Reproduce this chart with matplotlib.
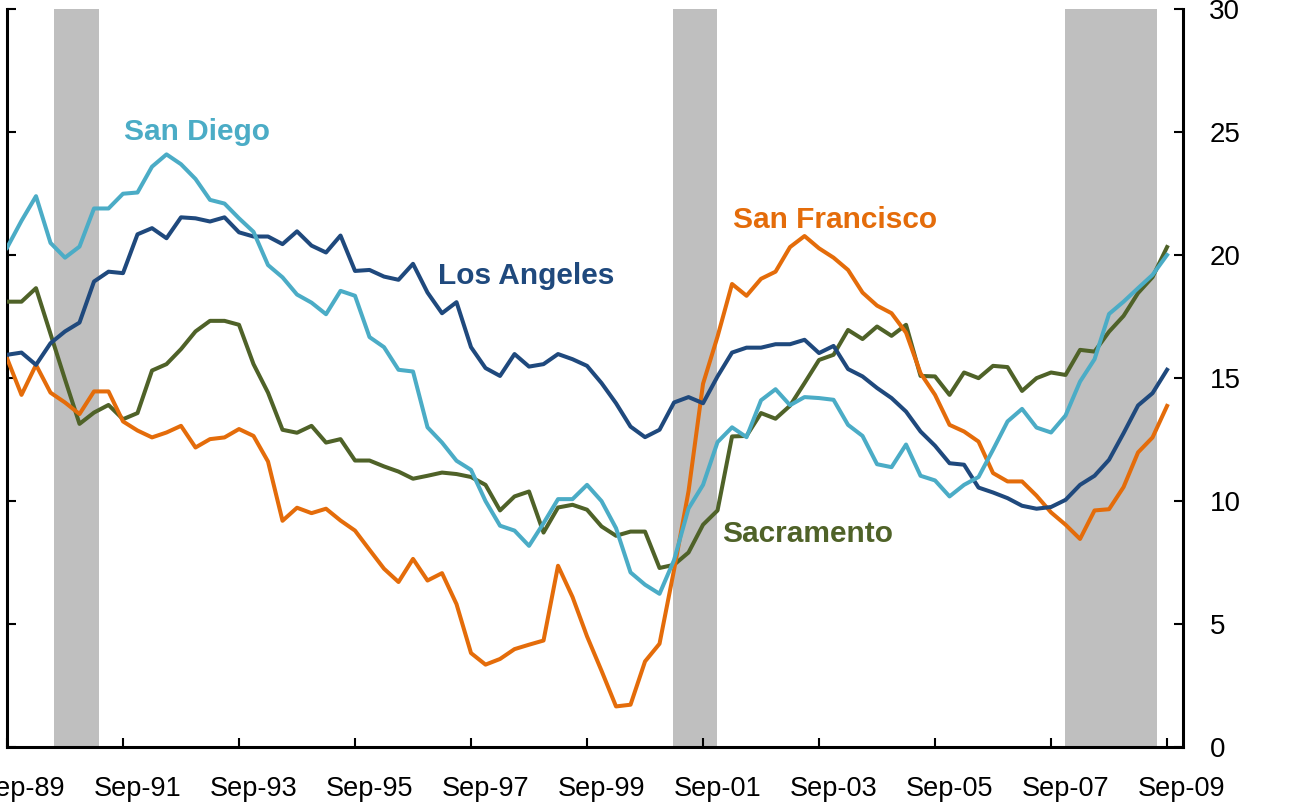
import matplotlib
matplotlib.use("Agg")
import matplotlib.pyplot as plt

plt.rcParams["font.family"] = ["Liberation Sans", "DejaVu Sans"]

# quarterly index, Sep-89 .. Sep-09
tick_labels = ["Sep-89", "Sep-91", "Sep-93", "Sep-95", "Sep-97", "Sep-99",
               "Sep-01", "Sep-03", "Sep-05", "Sep-07", "Sep-09"]

san_diego = [20.3, 21.4, 22.4, 20.5, 19.9, 20.35, 21.9, 21.9, 22.5, 22.55,
             23.6, 24.1, 23.7, 23.1, 22.25, 22.1, 21.5, 20.95, 19.6, 19.1,
             18.4, 18.07, 17.6, 18.55, 18.35, 16.67, 16.26, 15.34, 15.27, 13.0,
             12.38, 11.64, 11.27, 10.0, 9.0, 8.8, 8.18, 9.1, 10.08, 10.08,
             10.66, 10.0, 8.9, 7.1, 6.6, 6.23, 7.6, 9.7, 10.66, 12.4,
             13.0, 12.6, 14.1, 14.55, 13.9, 14.23, 14.19, 14.12, 13.1, 12.65,
             11.5, 11.38, 12.3, 11.03, 10.84, 10.19, 10.66, 10.98, 12.09, 13.24,
             13.75, 12.99, 12.79, 13.48, 14.86, 15.77, 17.61, 18.11, 18.66, 19.2,
             20.01]

los_angeles = [15.95, 16.04, 15.54, 16.42, 16.9, 17.26, 18.93, 19.33, 19.27, 20.85,
               21.1, 20.69, 21.54, 21.5, 21.37, 21.54, 20.93, 20.76, 20.76, 20.45,
               20.97, 20.39, 20.11, 20.8, 19.36, 19.4, 19.13, 19.0, 19.65, 18.48,
               17.64, 18.09, 16.26, 15.41, 15.09, 15.98, 15.47, 15.57, 15.98, 15.77,
               15.5, 14.8, 13.98, 13.03, 12.6, 12.9, 14.01, 14.23, 13.98, 15.07,
               16.04, 16.24, 16.24, 16.38, 16.38, 16.56, 16.02, 16.31, 15.37, 15.07,
               14.6, 14.19, 13.64, 12.83, 12.25, 11.54, 11.48, 10.55, 10.35, 10.12,
               9.81, 9.69, 9.76, 10.05, 10.66, 11.03, 11.68, 12.76, 13.89, 14.39,
               15.34]

sacramento = [18.11, 18.11, 18.66, 16.8, 14.95, 13.14, 13.6, 13.91, 13.33, 13.58,
              15.31, 15.57, 16.18, 16.9, 17.33, 17.33, 17.17, 15.57, 14.41, 12.9,
              12.78, 13.06, 12.38, 12.52, 11.65, 11.65, 11.41, 11.2, 10.91, 11.03,
              11.16, 11.1, 10.98, 10.66, 9.62, 10.19, 10.39, 8.72, 9.74, 9.85,
              9.65, 8.97, 8.59, 8.76, 8.76, 7.28, 7.41, 7.91, 9.04, 9.62,
              12.63, 12.65, 13.58, 13.35, 13.88, 14.8, 15.74, 15.95, 16.96, 16.59,
              17.1, 16.72, 17.17, 15.09, 15.07, 14.32, 15.23, 15.0, 15.5, 15.45,
              14.48, 15.0, 15.23, 15.13, 16.15, 16.08, 16.89, 17.53, 18.46, 19.11,
              20.33]

san_francisco = [15.81, 14.32, 15.54, 14.41, 14.01, 13.54, 14.46, 14.46, 13.24, 12.87,
                 12.59, 12.79, 13.06, 12.18, 12.52, 12.59, 12.93, 12.65, 11.61, 9.2,
                 9.73, 9.51, 9.69, 9.21, 8.8, 8.02, 7.25, 6.71, 7.65, 6.77,
                 7.07, 5.81, 3.82, 3.35, 3.58, 3.98, 4.16, 4.33, 7.37, 6.1,
                 4.5, 3.1, 1.65, 1.72, 3.48, 4.2, 7.2, 10.4, 14.77, 16.69,
                 18.83, 18.35, 19.04, 19.33, 20.33, 20.78, 20.28, 19.9, 19.4, 18.48,
                 17.95, 17.64, 16.85, 15.2, 14.32, 13.1, 12.83, 12.42, 11.14, 10.8,
                 10.8, 10.22, 9.54, 9.04, 8.46, 9.62, 9.67, 10.57, 11.98, 12.59,
                 13.87]

# recessions, in quarter index units
rec_start = [3.24, 45.93, 72.97]
rec_end = [6.34, 48.97, 79.31]

C_SD = "#4BACC6"
C_LA = "#1F497D"
C_SAC = "#4F6228"
C_SF = "#E46C0A"

fig = plt.figure(figsize=(12.93, 8.06), dpi=100)
ax = fig.add_axes((7 / 1293, 1 - 747 / 806, (1183 - 7) / 1293, (747 - 9.3) / 806))

for s, e in zip(rec_start, rec_end):
    ax.axvspan(s, e, color="#BFBFBF", lw=0, zorder=0)

x = range(len(san_diego))
lw = 2.9
ax.plot(x, sacramento, color=C_SAC, lw=lw, zorder=3)
ax.plot(x, san_francisco, color=C_SF, lw=lw, zorder=3)
ax.plot(x, los_angeles, color=C_LA, lw=lw, zorder=3)
ax.plot(x, san_diego, color=C_SD, lw=lw, zorder=3)

ax.set_xlim(0, 81.1)
ax.set_ylim(0, 30)

ax.spines["top"].set_visible(False)
for side in ("left", "right", "bottom"):
    ax.spines[side].set_linewidth(2.2)

ax.yaxis.tick_right()
ax.set_yticks([0, 5, 10, 15, 20, 25, 30])
ax.tick_params(axis="y", which="both", left=True, right=True, labelleft=False,
               labelright=True, direction="in", length=6.5, width=1.5,
               labelsize=20, pad=19)

ax.set_xticks(range(0, 81, 8))
ax.set_xticks([i + 1 for i in range(0, 81, 8)], minor=True)
ax.set_xticklabels([])
ax.set_xticklabels(tick_labels, minor=True)
ax.tick_params(axis="x", which="major", direction="in", length=6.5, width=1.5)
ax.tick_params(axis="x", which="minor", length=0, labelsize=19.5, pad=21)

bold = dict(fontsize=21.5, fontweight="bold", ha="left", va="baseline")
ax.text(8.07, 24.7, "San Diego", color=C_SD, **bold)
ax.text(29.72, 18.84, "Los Angeles", color=C_LA, **bold)
ax.text(50.07, 21.12, "San Francisco", color=C_SF, **bold)
ax.text(49.31, 8.34, "Sacramento", color=C_SAC, **bold)

fig.savefig("out.png", dpi=100)
